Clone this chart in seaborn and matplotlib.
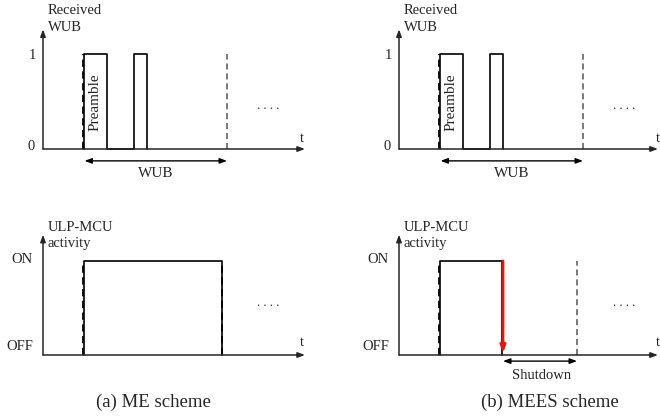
import matplotlib
matplotlib.use("Agg")
import matplotlib.pyplot as plt
import seaborn as sns
import pandas as pd

sns.set_theme(style="white")
plt.rcParams["font.family"] = ["Liberation Serif", "DejaVu Serif"]

# Time axis in arbitrary units (origin at the y axis)
wub_time = [41, 41, 64, 64, 91, 91, 104, 104]
wub_level = [0, 1, 1, 0, 0, 1, 1, 0]
wub_start = 39.5
wub_end = 184

me_time = [41, 41, 179, 179]
me_level = [0, 1, 1, 0]
me_end = 179

mees_time = [41, 41, 103, 103]
mees_level = [0, 1, 1, 0]
mees_shutdown = 104
mees_end = 178

top_ticks = ["0", "1"]
bottom_ticks = ["OFF", "ON"]
captions = ["(a) ME scheme", "(b) MEES scheme"]

W, H = 660, 418
fig = plt.figure(figsize=(W / 100, H / 100), dpi=100)

HEAD = "-|>,head_length=0.35,head_width=0.13"
HEAD2 = "<|-|>,head_length=0.35,head_width=0.13"


def panel(L, R, T, B, x0, base, lvl1):
    s = base - lvl1
    ax = fig.add_axes([L / W, 1 - B / H, (R - L) / W, (B - T) / H])
    ax.set_xlim(L - x0, R - x0)
    ax.set_ylim((base - B) / s, (base - T) / s)
    ax.axis("off")
    return ax


def axes_arrows(ax, xmax, ytop):
    kw = dict(arrowstyle=HEAD, color="#262626", lw=1.1, shrinkA=0, shrinkB=0)
    ax.annotate("", xy=(xmax, 0), xytext=(0, 0), arrowprops=kw)
    ax.annotate("", xy=(0, ytop), xytext=(0, 0), arrowprops=kw)


def signal(ax, t, v):
    df = pd.DataFrame({"t": t, "v": v})
    sns.lineplot(data=df, x="t", y="v", ax=ax, estimator=None, sort=False,
                 color="black", lw=1.2)


def dashed(ax, x, color="black", lw=1.3):
    ax.plot([x, x], [0, 1], ls=(0, (4, 2.5)), color=color, lw=lw)


def span(ax, x1, x2, y):
    ax.annotate("", xy=(x2, y), xytext=(x1, y),
                arrowprops=dict(arrowstyle=HEAD2, color="black", lw=1.0,
                                shrinkA=0, shrinkB=0))


fs = 10.5

# ---- top panels: received wake-up beacon ----
for L, R, x0, xmax in [(0, 330, 43, 262), (330, 660, 399, 259)]:
    ax = panel(L, R, 0, 200, x0, 149, 54)
    axes_arrows(ax, xmax, 1.26)
    signal(ax, wub_time, wub_level)
    dashed(ax, wub_start, "black")
    dashed(ax, wub_end, "#555555", 1.1)
    span(ax, wub_start + 2, wub_end, -0.125)
    ax.text(113, -0.26, "WUB", ha="center", va="center", fontsize=11)
    ax.text(52.5, 0.49, "Preamble", rotation=90, ha="center", va="center", fontsize=11)
    ax.text(-11, 0.98, top_ticks[1], ha="center", va="center", fontsize=fs)
    ax.text(-12, 0.03, top_ticks[0], ha="center", va="center", fontsize=fs)
    ax.text(259, 0.11, "t", ha="center", va="center", fontsize=fs)
    ax.text(5, 1.46, "Received", ha="left", va="center", fontsize=fs)
    ax.text(5, 1.28, "WUB", ha="left", va="center", fontsize=fs)
    ax.text(225, 0.45, ". . . .", ha="center", va="center", fontsize=9)

# ---- bottom panels: ULP-MCU activity ----
bottoms = []
for L, R, x0, xmax in [(0, 330, 43, 262), (330, 660, 399, 259)]:
    ax = panel(L, R, 200, 418, x0, 355, 261)
    axes_arrows(ax, xmax, 1.28)
    ax.text(-21, 1.02, bottom_ticks[1], ha="center", va="center", fontsize=fs)
    ax.text(-23, 0.09, bottom_ticks[0], ha="center", va="center", fontsize=fs)
    ax.text(259, 0.13, "t", ha="center", va="center", fontsize=fs)
    ax.text(5, 1.36, "ULP-MCU", ha="left", va="center", fontsize=fs)
    ax.text(5, 1.19, "activity", ha="left", va="center", fontsize=fs)
    ax.text(225, 0.55, ". . . .", ha="center", va="center", fontsize=9)
    bottoms.append(ax)

ax = bottoms[0]
signal(ax, me_time, me_level)
dashed(ax, wub_start, "black")
dashed(ax, me_end, "black")

ax = bottoms[1]
signal(ax, mees_time, mees_level)
dashed(ax, wub_start, "black")
dashed(ax, mees_end, "#555555", 1.1)
ax.annotate("", xy=(mees_shutdown, 0.02), xytext=(mees_shutdown, 1.0),
            arrowprops=dict(arrowstyle=HEAD, color="#e8140f", lw=2.0,
                            shrinkA=0, shrinkB=0))
span(ax, mees_shutdown, mees_end, -0.065)
ax.text(143, -0.22, "Shutdown", ha="center", va="center", fontsize=fs)

fig.text(153 / W, 1 - 402 / H, captions[0], ha="center", va="center", fontsize=13.5)
fig.text(550 / W, 1 - 402 / H, captions[1], ha="center", va="center", fontsize=13.5)

fig.savefig("out.png", dpi=100, facecolor="white")
